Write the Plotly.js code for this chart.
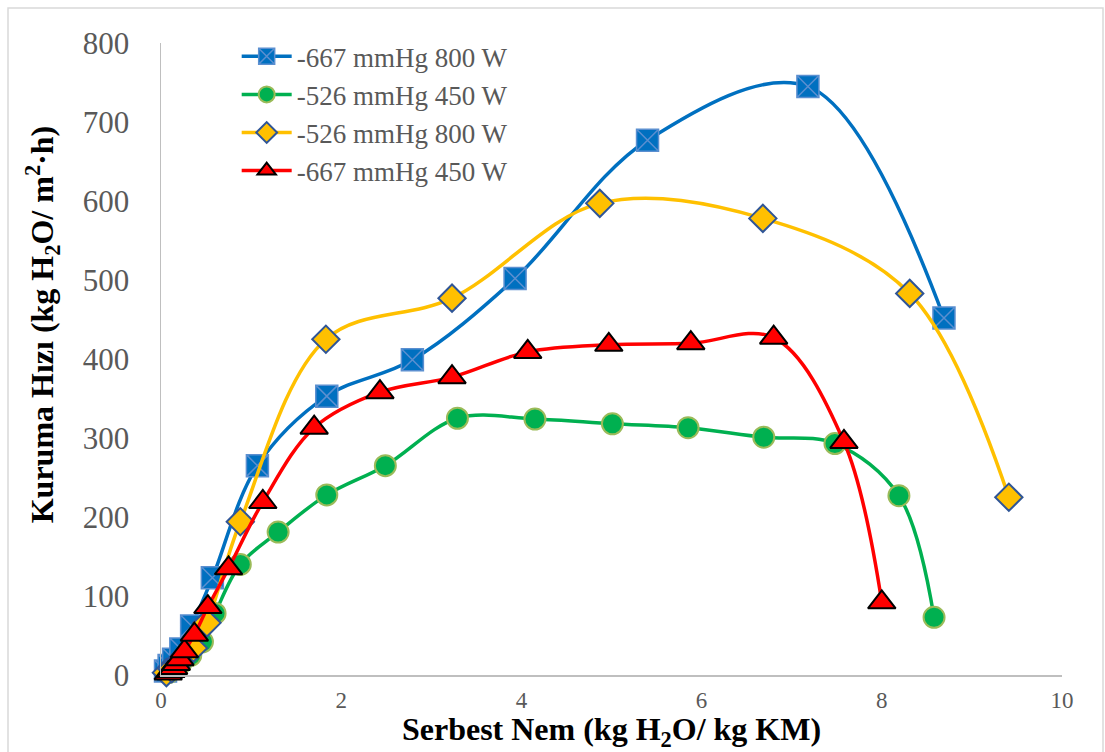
<!DOCTYPE html>
<html>
<head>
<meta charset="utf-8">
<script src="https://cdn.plot.ly/plotly-3.0.1.min.js"></script>
<style>
  html, body { margin: 0; padding: 0; background: #ffffff; }
  #chart { width: 1105px; height: 752px; }
</style>
</head>
<body>
<div id="chart"></div>
<script>
// Drying rate vs. free moisture for four vacuum/power settings
const seriesNames = ['-667 mmHg 800 W', '-526 mmHg 450 W', '-526 mmHg 800 W', '-667 mmHg 450 W'];

const x667_800 = [0.05, 0.09, 0.14, 0.22, 0.34, 0.57, 1.07, 1.84, 2.79, 3.93, 5.40, 7.18, 8.69];
const y667_800 = [5, 12, 20, 33, 62, 123, 265, 353, 399, 502, 677, 745, 452];

const x526_450 = [0.08, 0.14, 0.22, 0.33, 0.46, 0.60, 0.88, 1.30, 1.84, 2.49, 3.29, 4.15, 5.01, 5.85, 6.69, 7.48, 8.19, 8.58];
const y526_450 = [3, 8, 15, 25, 42, 78, 140, 181, 228, 265, 325, 324, 318, 313, 301, 293, 227, 73];

const x526_800 = [0.06, 0.12, 0.20, 0.36, 0.51, 0.88, 1.83, 3.23, 4.87, 6.68, 8.31, 9.41];
const y526_800 = [3, 8, 15, 34, 66, 194, 425, 477, 597, 578, 483, 225];

const x667_450 = [0.08, 0.11, 0.14, 0.17, 0.21, 0.26, 0.37, 0.52, 0.75, 1.13, 1.70, 2.43, 3.23, 4.07, 4.97, 5.88, 6.80, 7.58, 8.00];
const y667_450 = [2, 5, 9, 14, 20, 30, 51, 86, 135, 219, 313, 358, 377, 409, 418, 420, 427, 295, 92];

const xTicks = [0, 2, 4, 6, 8, 10];
const yTicks = [0, 100, 200, 300, 400, 500, 600, 700, 800];

const serif = '"Liberation Serif", "Times New Roman", serif';

function series(name, xs, ys, lineColor, marker, group) {
  return {
    type: 'scatter', mode: 'lines+markers', name: name,
    x: xs, y: ys, legendgroup: group,
    line: { color: lineColor, width: 3.5, shape: 'spline', smoothing: 1 },
    marker: marker,
    cliponaxis: false
  };
}

const traces = [
  series(seriesNames[0], x667_800, y667_800, '#0070C0',
    { symbol: 'square-x', size: 22, color: '#0070C0', line: { color: '#5B8FD0', width: 1.5 } }, 'a'),
  series(seriesNames[1], x526_450, y526_450, '#00B050',
    { symbol: 'circle', size: 21, color: '#00B050', line: { color: '#9BBB59', width: 2 } }, 'b'),
  series(seriesNames[2], x526_800, y526_800, '#FFC000',
    { symbol: 'diamond', size: 21, color: '#FFC000', line: { color: '#2F5597', width: 2 } }, 'c'),
  series(seriesNames[3], x667_450, y667_450, '#FF0000',
    { symbol: 'triangle-up', size: 24, color: '#FF0000', line: { color: '#000000', width: 2 } }, 'd')
];

const layout = {
  width: 1105, height: 752,
  paper_bgcolor: '#ffffff', plot_bgcolor: '#ffffff',
  margin: { l: 161, r: 43, t: 43, b: 77 },
  showlegend: true,
  legend: {
    x: 0.084, y: 1.017, xanchor: 'left', yanchor: 'top',
    bgcolor: 'rgba(0,0,0,0)',
    font: { family: serif, size: 27, color: '#595959' },
    tracegroupgap: 0,
    itemwidth: 50
  },
  xaxis: {
    range: [0, 10], tickvals: xTicks, ticktext: xTicks.map(String),
    showgrid: false, zeroline: false, showline: true, linecolor: '#BFBFBF', linewidth: 1.5,
    ticks: '', ticklabelstandoff: 4,
    tickfont: { family: serif, size: 23, color: '#595959' },
    title: {
      text: 'Serbest Nem (kg H<sub>2</sub>O/ kg KM)',
      font: { family: serif, size: 32, color: '#000000', weight: 'bold' },
      standoff: 9
    }
  },
  yaxis: {
    range: [0, 800], tickvals: yTicks, ticktext: yTicks.map(String),
    showgrid: false, zeroline: false, showline: true, linecolor: '#BFBFBF', linewidth: 1.5,
    ticks: '', ticklabelstandoff: 24,
    tickfont: { family: serif, size: 31, color: '#595959' }
  },
  annotations: [{
    text: 'Kuruma Hızı (kg H<sub>2</sub>O/ m<sup>2</sup>·h)',
    xref: 'paper', yref: 'paper', x: -0.132, y: 0.555,
    xanchor: 'center', yanchor: 'middle', textangle: -90, showarrow: false,
    font: { family: serif, size: 32, color: '#000000', weight: 'bold' }
  }],
  shapes: [{
    type: 'rect', xref: 'paper', yref: 'paper',
    x0: -0.1698, x1: 1.0455, y0: -0.14, y1: 1.0554,
    line: { color: '#D9D9D9', width: 1.5 }, layer: 'below'
  }]
};

Plotly.newPlot('chart', traces, layout, { displayModeBar: false, staticPlot: true });
</script>
</body>
</html>
